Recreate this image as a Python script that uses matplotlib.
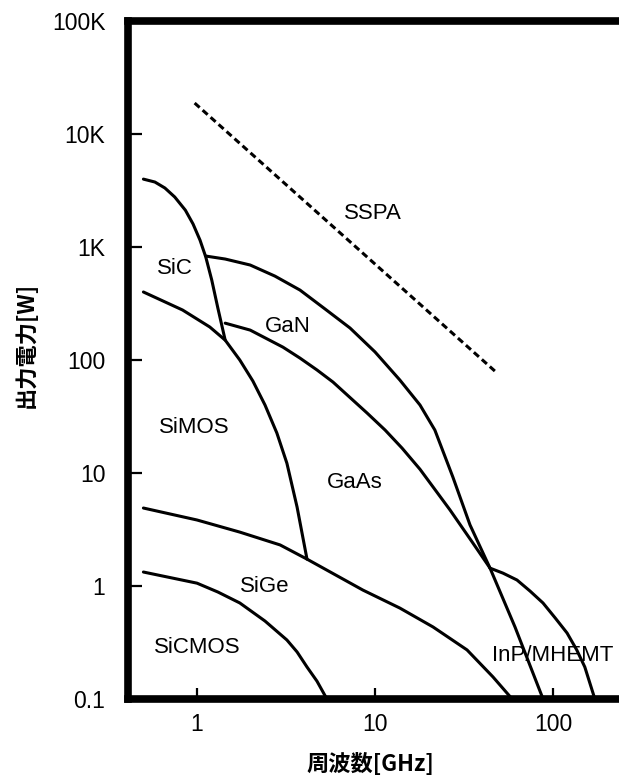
import matplotlib
matplotlib.use("Agg")
import matplotlib.pyplot as plt
from matplotlib.ticker import FixedLocator, FixedFormatter, NullLocator

plt.rcParams['font.family'] = ['Liberation Sans', 'Noto Sans CJK JP', 'DejaVu Sans']

# boundary curves (frequency GHz, power W)
sic_x = [0.5, 0.58, 0.66, 0.75, 0.86, 0.95, 1.04, 1.12, 1.21, 1.31, 1.44]
sic_y = [3990, 3760, 3330, 2770, 2120, 1600, 1150, 817, 511, 288, 150]

simos_x = [0.5, 0.83, 1.18, 1.44, 1.74, 2.06, 2.41, 2.81, 3.20, 3.65, 4.15]
simos_y = [400, 277, 196, 150, 100, 65.2, 40.0, 22.6, 12.2, 5.0, 1.73]

gan_x = [1.12, 1.44, 1.99, 2.74, 3.79, 5.24, 7.24, 10.0, 13.8, 17.9, 21.7, 27.4, 34.2, 44.3, 61.2, 88]
gan_y = [832, 783, 693, 553, 416, 283, 192, 118, 66.5, 40.0, 24.0, 9.2, 3.47, 1.44, 0.434, 0.1]

gaas_x = [1.44, 1.99, 3.04, 3.79, 4.72, 5.81, 9.02, 11.4, 14.2, 17.9, 26.4, 35.5, 44.3]
gaas_y = [212, 184, 130, 104, 81.7, 63.8, 34.0, 24.0, 16.6, 10.8, 4.71, 2.40, 1.44]

inp_x = [44.3, 52.4, 62.8, 74.3, 87.9, 103, 120, 136, 151, 172]
inp_y = [1.44, 1.30, 1.13, 0.903, 0.708, 0.521, 0.384, 0.272, 0.192, 0.1]

sige_x = [0.5, 1.0, 1.74, 2.93, 4.15, 8.56, 13.8, 21.2, 32.9, 46, 59]
sige_y = [4.9, 3.84, 3.0, 2.31, 1.73, 0.92, 0.638, 0.434, 0.272, 0.157, 0.1]

sicmos_x = [0.5, 1.0, 1.31, 1.74, 2.41, 3.20, 3.65, 4.15, 4.72, 5.37]
sicmos_y = [1.33, 1.06, 0.885, 0.708, 0.490, 0.333, 0.261, 0.192, 0.144, 0.1]

sspa_x = [0.97, 48.5]
sspa_y = [18800, 76.8]

xticks = [1, 10, 100]
xtick_labels = ['1', '10', '100']
yticks = [0.1, 1, 10, 100, 1e3, 1e4, 1e5]
ytick_labels = ['0.1', '1', '10', '100', '1K', '10K', '100K']

fig = plt.figure(figsize=(6.19, 7.76), dpi=100)
ax = fig.add_axes([0.206, 0.0992, 0.794, 0.8737])

for xs, ys in [(sic_x, sic_y), (simos_x, simos_y), (gan_x, gan_y), (gaas_x, gaas_y),
               (inp_x, inp_y), (sige_x, sige_y), (sicmos_x, sicmos_y)]:
    ax.plot(xs, ys, color='black', lw=2.2, solid_capstyle='round', solid_joinstyle='round')
ax.plot(sspa_x, sspa_y, color='black', lw=2.2, linestyle=(0, (2.2, 1.3)))

ax.set_xscale('log')
ax.set_yscale('log')
ax.set_xlim(0.407, 235)
ax.set_ylim(0.1, 1e5)

ax.xaxis.set_major_locator(FixedLocator(xticks))
ax.xaxis.set_major_formatter(FixedFormatter(xtick_labels))
ax.yaxis.set_major_locator(FixedLocator(yticks))
ax.yaxis.set_major_formatter(FixedFormatter(ytick_labels))
ax.xaxis.set_minor_locator(NullLocator())
ax.yaxis.set_minor_locator(NullLocator())
ax.tick_params(axis='y', direction='in', length=10, width=1.6, labelsize=16.5, pad=16)
ax.tick_params(axis='x', direction='in', length=8, width=1.6, labelsize=16.5, pad=10)

for side in ['left', 'bottom', 'top']:
    ax.spines[side].set_linewidth(5.5)
ax.spines['right'].set_visible(False)

lab = dict(fontsize=16, ha='center', va='center')
ax.text(9.75, 2000, 'SSPA', **lab)
ax.text(0.75, 652, 'SiC', **lab)
ax.text(3.25, 200, 'GaN', **lab)
ax.text(0.97, 25.5, 'SiMOS', **lab)
ax.text(7.72, 8.2, 'GaAs', **lab)
ax.text(2.41, 1.0, 'SiGe', **lab)
ax.text(1.01, 0.288, 'SiCMOS', **lab)
ax.text(100, 0.245, 'InP/MHEMT', **lab)

ax.set_xlabel('周波数[GHz]', fontsize=16, fontweight='bold',
              family=['Noto Sans CJK JP', 'DejaVu Sans'], va='center')
ax.set_ylabel('出力電力[W]', fontsize=16, fontweight='bold',
              family=['Noto Sans CJK JP', 'DejaVu Sans'], va='center')
ax.xaxis.set_label_coords(0.495, -0.096)
ax.yaxis.set_label_coords(-0.207, 0.522)

fig.savefig('out.png', dpi=100)
